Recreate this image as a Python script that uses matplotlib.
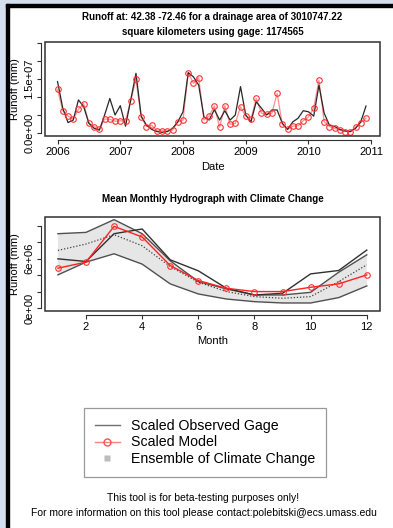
import numpy as np
import matplotlib.pyplot as plt
from matplotlib.lines import Line2D
from matplotlib.patches import Rectangle

plt.rcParams['font.family'] = ['Liberation Sans', 'DejaVu Sans']

# --- datos: serie mensual 2006-2010 (valores en 1e6 mm) ---
observed = [14.3, 6.9, 2.9, 3.6, 9.2, 7.3, 2.7, 1.3, 0.8, 5.0, 9.6, 5.0,
            7.6, 1.9, 9.2, 16.6, 4.7, 2.2, 1.0, 0.4, 0.2, 0.4, 1.3, 3.1,
            5.9, 16.8, 15.6, 13.3, 4.5, 3.6, 6.5, 3.6, 6.2, 3.6, 5.0, 12.9,
            5.0, 3.1, 8.7, 6.9, 5.0, 6.4, 6.4, 2.7, 1.0, 3.1, 4.1, 6.2,
            5.9, 4.7, 13.3, 5.5, 2.2, 1.8, 1.0, 0.6, 0.4, 1.3, 3.1, 7.5]
model = [12.1, 6.2, 4.7, 3.9, 6.6, 8.2, 2.7, 1.8, 1.0, 3.9, 3.8, 3.3,
         3.4, 3.3, 9.0, 14.9, 4.4, 1.8, 2.2, 0.6, 0.6, 0.6, 0.8, 3.1,
         3.6, 16.8, 13.8, 15.4, 3.6, 4.7, 7.5, 1.6, 7.6, 2.4, 2.7, 7.3,
         4.7, 3.9, 9.6, 5.5, 5.2, 5.5, 11.0, 2.4, 1.0, 1.9, 2.0, 3.4,
         4.5, 6.9, 14.7, 3.1, 1.8, 1.3, 0.8, 0.4, 0.4, 1.6, 2.9, 4.1]

# --- datos: hidrograma medio mensual (1e6 mm) ---
months = list(range(1, 13))
obs_monthly = [5.99, 5.67, 9.03, 9.60, 5.87, 4.54, 2.43, 1.62, 1.82, 4.17, 4.58, 7.05]
model_monthly = [4.86, 5.59, 9.92, 8.63, 5.18, 3.36, 2.43, 2.03, 2.03, 2.55, 2.96, 4.05]
ens_upper = [9.03, 9.19, 10.73, 9.03, 5.75, 3.24, 2.35, 1.62, 1.62, 1.94, 4.37, 6.48]
ens_lower = [4.05, 5.59, 6.60, 5.35, 2.96, 1.74, 1.13, 0.81, 0.65, 0.65, 1.30, 2.71]
ens_mean = [7.01, 7.78, 8.91, 7.57, 5.06, 3.16, 2.03, 1.42, 1.22, 1.42, 3.24, 5.27]

W, H = 393, 528
fig = plt.figure(figsize=(W / 100, H / 100), dpi=100)

# marco de la pagina
fig.patches.append(Rectangle((0, 0), 6 / W, 1, transform=fig.transFigure, color='#d3dfee', zorder=0))
fig.patches.append(Rectangle((0, 1 - 4 / H), 1, 4 / H, transform=fig.transFigure, color='#d3dfee', zorder=0))
fig.patches.append(Rectangle((6 / W, 0), 3 / W, 1 - 4 / H, transform=fig.transFigure, color='black', zorder=1))
fig.patches.append(Rectangle((6 / W, 1 - 7 / H), 1, 3 / H, transform=fig.transFigure, color='black', zorder=1))


def r_style(ax):
    for s in ['left', 'bottom']:
        ax.spines[s].set_position(('outward', 3))
        ax.spines[s].set_color('#303030')
    for s in ['top', 'right']:
        ax.spines[s].set_visible(False)
    ax.add_patch(Rectangle((0, 0), 1, 1, transform=ax.transAxes, fill=False,
                           edgecolor='#303030', lw=1.1, clip_on=False, zorder=5))
    ax.tick_params(direction='out', length=3, width=0.8, color='#303030', labelsize=8, pad=2)
    ax.tick_params(axis='y', labelrotation=90, pad=1.5)


def set_ylabels(ax, labels):
    ax.set_yticklabels(labels)
    for lab in ax.get_yticklabels():
        lab.set_va('center')


def pos(left, top, right, bottom):
    return [left / W, 1 - bottom / H, (right - left) / W, (bottom - top) / H]


# --- serie temporal ---
ax1 = fig.add_axes(pos(45, 42, 380, 136))
r_style(ax1)
t = 2006 + np.arange(len(observed)) / 12
ax1.plot(t, np.array(model) * 1e6, color='#ff9090', lw=0.9)
ax1.plot(t, np.array(observed) * 1e6, color='#282828', lw=0.9)
ax1.plot(t, np.array(model) * 1e6, 'o', mfc='none', mec='#ff3030', ms=4, mew=0.8)
ax1.set_xlim(2005.80, 2011.14)
ax1.set_ylim(-0.83e6, 2.53e7)
ax1.set_xticks(range(2006, 2012))
ax1.set_yticks(np.arange(0, 2.6e7, 5e6))
set_ylabels(ax1, ['0.0e+00', '', '', '1.5e+07', '', ''])
ax1.spines['left'].set_bounds(0, 2.5e7)
ax1.spines['bottom'].set_bounds(2006, 2011)

fig.text(212.5 / W, 1 - 17 / H, 'Runoff at: 42.38 -72.46 for a drainage area of 3010747.22',
         ha='center', va='center', fontsize=7, fontweight='bold')
fig.text(212.5 / W, 1 - 32 / H, 'square kilometers using gage: 1174565',
         ha='center', va='center', fontsize=7, fontweight='bold')
fig.text(212.5 / W, 1 - 167 / H, 'Date', ha='center', va='center', fontsize=8)
fig.text(15 / W, 1 - 89 / H, 'Runoff (mm)', ha='center', va='center', rotation=90, fontsize=8)

# --- hidrograma mensual ---
ax2 = fig.add_axes(pos(45, 217, 380, 311))
r_style(ax2)
up = np.array(ens_upper) * 1e6
lo = np.array(ens_lower) * 1e6
ax2.fill_between(months, lo, up, facecolor='#e6e6e6', edgecolor='none')
ax2.plot(months, up, color='#505050', lw=1.0)
ax2.plot(months, lo, color='#505050', lw=1.0)
ax2.plot(months, np.array(ens_mean) * 1e6, color='#404040', lw=0.9, ls=(0, (1, 1.5)))
ax2.plot(months, np.array(obs_monthly) * 1e6, color='#303030', lw=1.0)
ax2.plot(months, np.array(model_monthly) * 1e6, color='#ff2020', lw=1.0,
         marker='o', mfc='none', mec='#ff3030', ms=4, mew=0.8)
ax2.set_xlim(0.54, 12.47)
ax2.set_ylim(-0.32e6, 11.05e6)
ax2.set_xticks([2, 4, 6, 8, 10, 12])
ax2.set_yticks(np.arange(0, 1.1e7, 2e6))
set_ylabels(ax2, ['0e+00', '', '', '6e+06', '', ''])
ax2.spines['left'].set_bounds(0, 1e7)
ax2.spines['bottom'].set_bounds(2, 12)

fig.text(212.5 / W, 1 - 199 / H, 'Mean Monthly Hydrograph with Climate Change',
         ha='center', va='center', fontsize=7, fontweight='bold')
fig.text(212.5 / W, 1 - 341 / H, 'Month', ha='center', va='center', fontsize=8)
fig.text(15 / W, 1 - 264 / H, 'Runoff (mm)', ha='center', va='center', rotation=90, fontsize=8)

# --- leyenda ---
handles = [
    Line2D([], [], color='#707070', lw=1.0),
    Line2D([], [], color='#ff8080', lw=1.0, marker='o', mfc='none', mec='#ff5050', ms=5),
    Line2D([], [], color='none', marker='s', mfc='#bdbdbd', mec='none', ms=5),
]
leg = fig.legend(handles, ['Scaled Observed Gage', 'Scaled Model', 'Ensemble of Climate Change'],
                 loc='upper left', bbox_to_anchor=(84 / W, 1 - 408 / H), borderaxespad=0,
                 fontsize=10.2, frameon=True, fancybox=False, edgecolor='#808080',
                 handlelength=1.8, handletextpad=0.8, borderpad=0.75, labelspacing=0.2)
leg.get_frame().set_linewidth(0.9)

fig.text(203 / W, 1 - 498 / H, 'This tool is for beta-testing purposes only!',
         ha='center', va='center', fontsize=7.5)
fig.text(204 / W, 1 - 513 / H,
         'For more information on this tool please contact:polebitski@ecs.umass.edu',
         ha='center', va='center', fontsize=7.5)

fig.savefig('out.png', dpi=100)
